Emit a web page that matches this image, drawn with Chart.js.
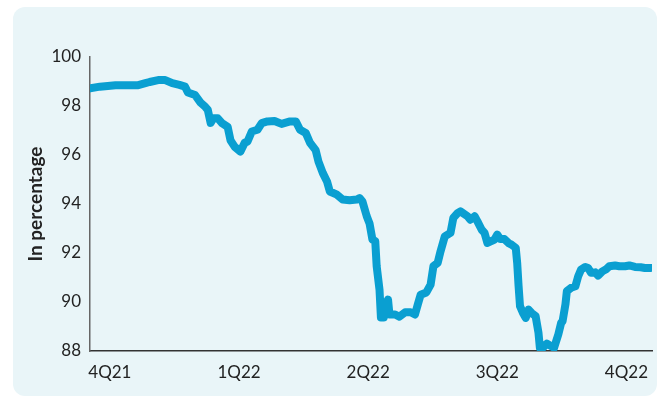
<!DOCTYPE html>
<html>
<head>
<meta charset="utf-8">
<script src="https://cdn.jsdelivr.net/npm/chart.js@4.4.1/dist/chart.umd.min.js"></script>
<style>
  html, body { margin: 0; padding: 0; background: #ffffff; }
  .panel {
    position: absolute; left: 13px; top: 7px; width: 644px; height: 389px;
    background: #e9f5f8; border-radius: 12px;
  }
  .wrap { position: absolute; left: 0; top: 0; width: 660px; height: 401px; }
</style>
</head>
<body>
<div class="panel"></div>
<div class="wrap"><canvas id="chart" width="660" height="401"></canvas></div>
<script>
// days since start of series (mid-Sep 2021)
const days = [
  0, 7, 18, 34, 39, 42, 48, 53, 58, 63, 67, 69, 74, 78, 81, 83, 85, 87, 90, 93,
  97, 99, 102, 106, 109, 111, 114, 118, 121, 125, 130, 135, 141, 145, 148, 152, 155, 159, 161, 164,
  167, 169, 174, 178, 183, 188, 190, 192, 195, 197, 199, 201, 202, 204, 205, 207, 209, 210, 211, 215,
  218, 222, 226, 229, 231, 233, 237, 240, 242, 245, 247, 250, 254, 256, 259, 261, 266, 268, 271, 273,
  276, 278, 280, 285, 287, 289, 292, 295, 297, 300, 301, 302, 303, 305, 307, 309, 311, 314, 316, 317,
  319, 322, 324, 327, 330, 332, 333, 335, 336, 339, 342, 344, 346, 349, 351, 353, 356, 358, 361, 364,
  366, 370, 373, 377, 380, 384, 388, 391, 395
];
const values = [
  98.72, 98.79, 98.85, 98.85, 98.93, 98.98, 99.06, 99.06, 98.93, 98.86, 98.79, 98.55, 98.45, 98.13, 97.98, 97.84, 97.31, 97.5, 97.5, 97.3,
  97.15, 96.6, 96.33, 96.14, 96.5, 96.55, 96.96, 97.03, 97.3, 97.37, 97.39, 97.27, 97.37, 97.37, 97.03, 96.9, 96.5, 96.2, 95.73, 95.27,
  94.92, 94.51, 94.38, 94.18, 94.15, 94.18, 94.24, 94.1, 93.5, 93.2, 92.55, 92.48, 91.46, 90.5, 89.37, 89.37, 89.98, 90.1, 89.49, 89.49,
  89.4, 89.58, 89.58, 89.49, 89.9, 90.3, 90.39, 90.71, 91.46, 91.6, 92.07, 92.68, 92.82, 93.43, 93.63, 93.7, 93.5, 93.36, 93.5, 93.29,
  92.95, 92.82, 92.41, 92.55, 92.75, 92.57, 92.57, 92.4, 92.34, 92.21, 91.6, 90.64, 89.83, 89.56, 89.35, 89.69, 89.56, 89.42, 88.75, 88.13,
  88.13, 88.3, 88.23, 88.13, 88.68, 89.15, 89.22, 89.9, 90.44, 90.58, 90.64, 91.05, 91.32, 91.43, 91.39, 91.19, 91.21, 91.08, 91.25, 91.35,
  91.46, 91.49, 91.46, 91.46, 91.49, 91.43, 91.42, 91.39, 91.39
];
const quarterDays = [14, 105, 196, 287, 378];
const quarterLabels = ["4Q21", "1Q22", "2Q22", "3Q22", "4Q22"];
const yTicks = [88, 90, 92, 94, 96, 98, 100];

const points = days.map((d, i) => ({ x: d, y: values[i] }));

const ctx = document.getElementById("chart").getContext("2d");
new Chart(ctx, {
  type: "line",
  data: {
    datasets: [
      {
        data: points,
        borderColor: "#0a9fd1",
        borderWidth: 8,
        pointRadius: 0,
        tension: 0,
        fill: false,
        borderCapStyle: "round",
        borderJoinStyle: "round",
      },
    ],
  },
  options: {
    responsive: false,
    animation: false,
    layout: { padding: { top: 57, right: 8, left: 0, bottom: 0 } },
    plugins: { legend: { display: false }, tooltip: { enabled: false } },
    scales: {
      x: {
        type: "linear",
        min: 0,
        max: 396,
        afterBuildTicks: (scale) => {
          scale.ticks = quarterDays.map((v) => ({ value: v }));
        },
        afterFit: (scale) => { scale.height = 50; },
        ticks: {
          autoSkip: false,
          maxRotation: 0,
          padding: 11,
          color: "#222",
          font: { family: "Lato", size: 17 },
          callback: (v) => quarterLabels[quarterDays.indexOf(v)],
        },
        grid: { display: false, drawTicks: false },
        border: { display: true, color: "#333", width: 1.5 },
      },
      y: {
        min: 88,
        max: 100,
        afterBuildTicks: (scale) => {
          scale.ticks = yTicks.map((v) => ({ value: v }));
        },
        afterFit: (scale) => { scale.width = 90; },
        ticks: {
          padding: 9,
          color: "#222",
          font: { family: "Lato", size: 17 },
        },
        title: {
          display: true,
          text: "In percentage",
          color: "#222",
          font: { family: "Lato", size: 19, weight: "bold" },
          padding: { top: 24, bottom: 0 },
        },
        grid: { display: false, drawTicks: false },
        border: { display: true, color: "#666", width: 1.5 },
      },
    },
  },
});
</script>
</body>
</html>
